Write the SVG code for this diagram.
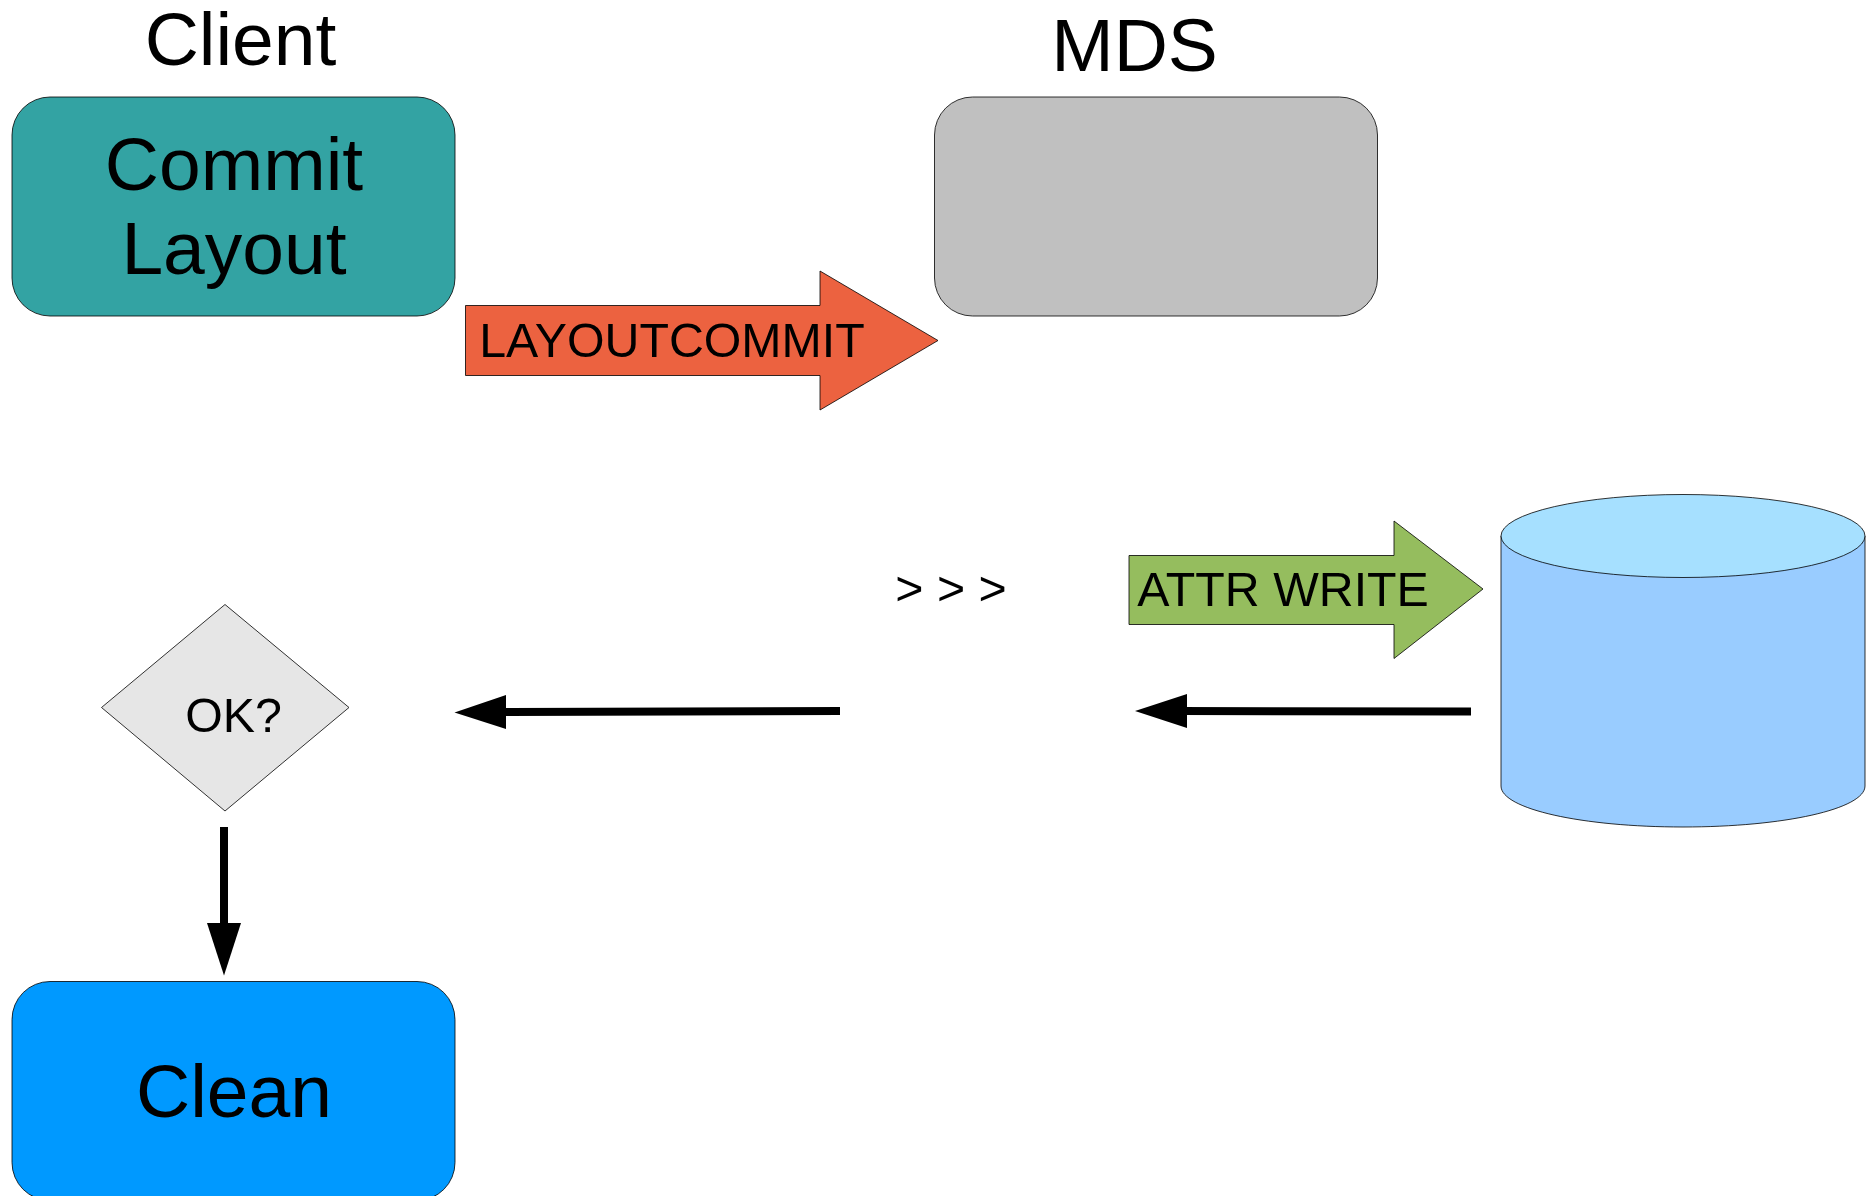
<svg xmlns="http://www.w3.org/2000/svg" width="1876" height="1196" viewBox="0 0 1876 1196">
<style>
.s{stroke:#000;stroke-width:.8;stroke-linejoin:round}
text{font-family:"Liberation Sans",Arial,sans-serif;fill:#000;text-anchor:middle}
.l{font-size:75px}
.m{font-size:48.300px}
.c{stroke:#000;stroke-width:8;fill:none}
</style>
<rect width="1876" height="1196" fill="#fff"/>
<g id="client-title"><text class="l" x="240.500" y="65">Client</text></g>
<g id="mds-title"><text class="l" x="1134.500" y="71">MDS</text></g>
<g id="commit-layout"><rect class="s" x="12" y="97" width="443" height="219" rx="38" fill="#33a3a3"/><text class="l" x="234" y="190">Commit</text><text class="l" x="234" y="274">Layout</text></g>
<g id="mds"><rect class="s" x="934.500" y="97" width="443" height="219" rx="38" fill="#c0c0c0"/></g>
<g id="layoutcommit"><path class="s" d="M465.500 305.500H820V271L938 340.500L820 410V375.500H465.500Z" fill="#ec6240"/><text class="m" x="672" y="357">LAYOUTCOMMIT</text></g>
<g id="attr-write"><path class="s" d="M1129 555.500H1394V521L1483 589L1394 658.500V624.500H1129Z" fill="#95bd5e"/><text class="m" x="1283" y="606">ATTR WRITE</text></g>
<g id="progress"><text class="m" x="951" y="605">&gt; &gt; &gt;</text></g>
<g id="storage"><path class="s" d="M1501 536V786C1501 809 1582 827 1683 827S1865 809 1865 786V536Z" fill="#9cf"/><ellipse class="s" cx="1683" cy="536" rx="182" ry="41.500" fill="#a6e0ff"/></g>
<g id="ok"><path class="s" d="M225 604.500L349 707.500L225 811L101.500 707.500Z" fill="#e6e6e6"/><text class="m" x="233.500" y="732">OK?</text></g>
<g id="clean"><rect class="s" x="12" y="981.500" width="443" height="219" rx="38" fill="#09f"/><text class="l" x="234" y="1117">Clean</text></g>
<g id="connectors">
<path class="c" d="M1471 711.500L1180 711"/><path d="M1135 711L1187 694V728Z"/>
<path class="c" d="M840 711L500 712"/><path d="M454.500 712.500L506 695V729Z"/>
<path class="c" d="M224 827V930"/><path d="M224 975.500L207 923H241Z"/>
</g>
</svg>
